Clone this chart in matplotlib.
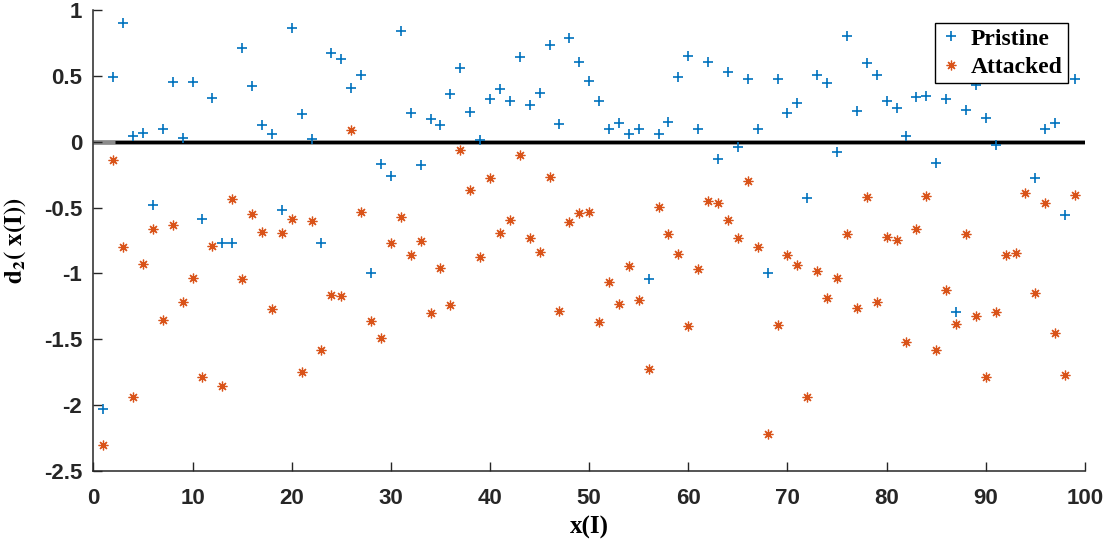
import numpy as np
import matplotlib
matplotlib.use("Agg")
import matplotlib.pyplot as plt
from matplotlib.lines import Line2D

plt.rcParams["mathtext.fontset"] = "stix"

# ---- data ----
x_index = list(range(1, 100))

pristine = [
    -2.03, 0.49, 0.90, 0.04, 0.07, -0.48, 0.10, 0.455, 0.03, 0.455,
    -0.59, 0.33, -0.77, -0.77, 0.71, 0.42, 0.13, 0.06, -0.52, 0.86,
    0.21, 0.02, -0.77, 0.67, 0.63, 0.41, 0.508, -0.994, -0.172, -0.258,
    0.842, 0.22, -0.18, 0.169, 0.124, 0.364, 0.561, 0.228, 0.01, 0.326,
    0.397, 0.313, 0.645, 0.28, 0.372, 0.731, 0.131, 0.791, 0.609, 0.463,
    0.313, 0.10, 0.144, 0.061, 0.10, -1.04, 0.055, 0.152, 0.493, 0.652,
    0.10, 0.607, -0.129, 0.526, -0.043, 0.48, 0.093, -1.00, 0.473, 0.22,
    0.296, -0.425, 0.508, 0.448, -0.076, 0.806, 0.237, 0.594, 0.508, 0.313,
    0.258, 0.046, 0.341, 0.349, -0.16, 0.321, -1.29, 0.243, 0.427, 0.182,
    -0.023, 0.65, 0.70, 0.62, -0.273, 0.093, 0.144, -0.56, 0.48,
]

attacked = [
    -2.30, -0.14, -0.80, -1.935, -0.926, -0.665, -1.35, -0.63, -1.214, -1.032,
    -1.79, -0.794, -1.851, -0.438, -1.04, -0.546, -0.683, -1.267, -0.69, -0.59,
    -1.745, -0.605, -1.578, -1.161, -1.168, 0.091, -0.531, -1.358, -1.487, -0.766,
    -0.569, -0.857, -0.751, -1.297, -0.956, -1.237, -0.061, -0.364, -0.873, -0.273,
    -0.69, -0.592, -0.099, -0.728, -0.835, -0.266, -1.282, -0.607, -0.544, -0.531,
    -1.366, -1.062, -1.229, -0.941, -1.199, -1.722, -0.493, -0.698, -0.853, -1.396,
    -0.964, -0.448, -0.468, -0.592, -0.728, -0.296, -0.797, -2.216, -1.388, -0.857,
    -0.933, -1.942, -0.979, -1.184, -1.032, -0.698, -1.26, -0.417, -1.214, -0.721,
    -0.749, -1.517, -0.665, -0.41, -1.578, -1.123, -1.381, -0.698, -1.32, -1.783,
    -1.29, -0.857, -0.842, -0.392, -1.146, -0.468, -1.449, -1.775, -0.402,
]

x_ticks = [0, 10, 20, 30, 40, 50, 60, 70, 80, 90, 100]
x_ticklabels = ["0", "10", "20", "30", "40", "50", "60", "70", "80", "90", "100"]
y_ticks = [-2.5, -2.0, -1.5, -1.0, -0.5, 0.0, 0.5, 1.0]
y_ticklabels = ["-2.5", "-2", "-1.5", "-1", "-0.5", "0", "0.5", "1"]
series_names = ["Pristine", "Attacked"]

blue = "#0072BD"
orange = "#D95319"
axis_col = "#262626"

fig = plt.figure(figsize=(11.06, 5.39), dpi=100)
ax = fig.add_axes([0.0844, 0.1262, 0.8966, 0.8552])

asterisk = (8, 2, 0)
ms_plus, mew_plus = 6.5, 1.2
ms_star, mew_star = 7.0, 0.9

# zero reference line
ax.plot([0, 100], [0, 0], color="#8a8a8a", lw=3.4, zorder=1, solid_capstyle="butt")
ax.plot([2.2, 100], [0, 0], color="black", lw=2.2, zorder=2, solid_capstyle="butt")

ax.plot(x_index, pristine, linestyle="none", marker="+", markersize=ms_plus,
        markeredgewidth=mew_plus, color=blue, zorder=3)
ax.plot(x_index, attacked, linestyle="none", marker=asterisk, markersize=ms_star,
        markeredgewidth=mew_star, color=orange, zorder=3)

ax.set_xlim(0, 100)
ax.set_ylim(-2.5, 1.0)
ax.set_xticks(x_ticks)
ax.set_xticklabels(x_ticklabels)
ax.set_yticks(y_ticks)
ax.set_yticklabels(y_ticklabels)

for s in ["top", "right"]:
    ax.spines[s].set_visible(False)
for s in ["left", "bottom"]:
    ax.spines[s].set_color(axis_col)
    ax.spines[s].set_linewidth(1.1)

ax.tick_params(axis="both", direction="in", length=6.5, width=1.0,
               color=axis_col, labelcolor=axis_col, labelsize=16)
ax.tick_params(axis="x", pad=12)
ax.tick_params(axis="y", pad=8)
for lab in ax.get_xticklabels() + ax.get_yticklabels():
    lab.set_fontfamily("Liberation Sans")
    lab.set_fontweight("bold")

ax.set_xlabel("x(I)", fontfamily="Liberation Serif", fontweight="bold",
              fontsize=18, color="black")
ax.xaxis.set_label_coords(0.5, -0.097)
ax.set_ylabel(r"$\mathbf{d_2(\ x(I))}$", fontsize=18, color="black")
ax.yaxis.set_label_coords(-0.066, 0.5)

handles = [
    Line2D([], [], linestyle="none", marker="+", markersize=ms_plus,
           markeredgewidth=mew_plus, color=blue),
    Line2D([], [], linestyle="none", marker=asterisk, markersize=ms_star,
           markeredgewidth=mew_star, color=orange),
]
leg = ax.legend(handles, series_names, loc="upper right",
                bbox_to_anchor=(0.983, 0.972), borderaxespad=0,
                prop={"family": "Liberation Serif", "weight": "bold", "size": 17},
                frameon=True, fancybox=False, edgecolor="black", framealpha=1,
                handlelength=0.9, handletextpad=0.4, borderpad=0.22,
                labelspacing=0.3)
leg.get_frame().set_linewidth(1.0)
leg.set_zorder(10)

fig.savefig("out.png", dpi=100)
